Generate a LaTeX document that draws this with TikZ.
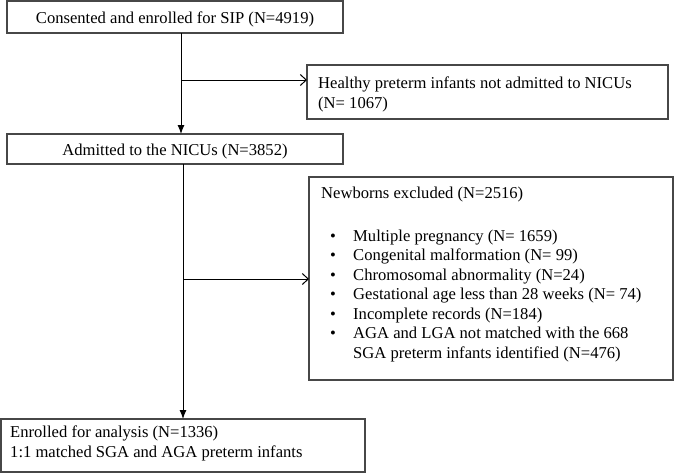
\documentclass[tikz,border=0pt]{standalone}
\usepackage{fontspec}
\setmainfont{Liberation Serif}
\usetikzlibrary{arrows.meta}
\begin{document}
\begin{tikzpicture}[x=1pt,y=-1pt,
  box/.style={draw=black!72, line width=1.2pt, anchor=north west, inner sep=0pt, outer sep=0pt},
  txt/.style={anchor=base west, inner sep=0pt, font=\fontsize{16.6}{19}\selectfont},
  ctxt/.style={anchor=base, inner sep=0pt, font=\fontsize{16.6}{19}\selectfont},
  link/.style={line width=1pt, -{Latex[length=9pt,width=7pt]}},
  branch/.style={line width=1pt, -{Straight Barb[length=6pt,width=11pt,line width=1pt]}}]
\useasboundingbox (0,0) rectangle (674,474);
% boxes
\node[box, minimum width=336pt, minimum height=32pt] (b1) at (7,1) {};
\node[box, minimum width=361pt, minimum height=54pt] (bH) at (307,65) {};
\node[box, minimum width=336pt, minimum height=30pt] (b2) at (7,134) {};
\node[box, minimum width=364pt, minimum height=203pt] (bE) at (309,177) {};
\node[box, minimum width=364pt, minimum height=53pt] (b4) at (1,419) {};
% texts
\node[ctxt] (t1) at (b1.center |- 0,23) {Consented and enrolled for SIP (N=4919)};
\node[txt] (tH1) at (318,88) {Healthy preterm infants not admitted to NICUs};
\node[txt] (tH2) at (318,108) {(N= 1067)};
\node[ctxt] (t2) at (b2.center |- 0,155) {Admitted to the NICUs (N=3852)};
\node[txt] (tE0) at (321,198) {Newborns excluded (N=2516)};
\foreach \i/\y/\s in {
  1/241/{Multiple pregnancy (N= 1659)},
  2/260.5/{Congenital malformation (N= 99)},
  3/280/{Chromosomal abnormality (N=24)},
  4/299.5/{Gestational age less than 28 weeks (N= 74)},
  5/319/{Incomplete records (N=184)},
  6/338.5/{AGA and LGA not matched with the 668}}{
  \node[txt] (bul\i) at (330,\y) {\textbullet};
  \node[txt] (tE\i) at (353,\y) {\s};
}
\node[txt] (tE7) at (353,358) {SGA preterm infants identified (N=476)};
\node[txt] (t41) at (10,437) {Enrolled for analysis (N=1336)};
\node[txt] (t42) at (10,457) {1:1 matched SGA and AGA preterm infants};
% connectors
\coordinate (v1) at (181,0);
\coordinate (v2) at (183,0);
\coordinate (j1) at (181,80);
\coordinate (j2) at (183,279);
\draw[link] (b1.south -| v1) -- (b2.north -| v1);
\draw[branch] (j1) -- (j1 -| bH.west);
\draw[link] (b2.south -| v2) -- (b4.north -| v2);
\draw[branch] (j2) -- (j2 -| bE.west);
\end{tikzpicture}
\end{document}
